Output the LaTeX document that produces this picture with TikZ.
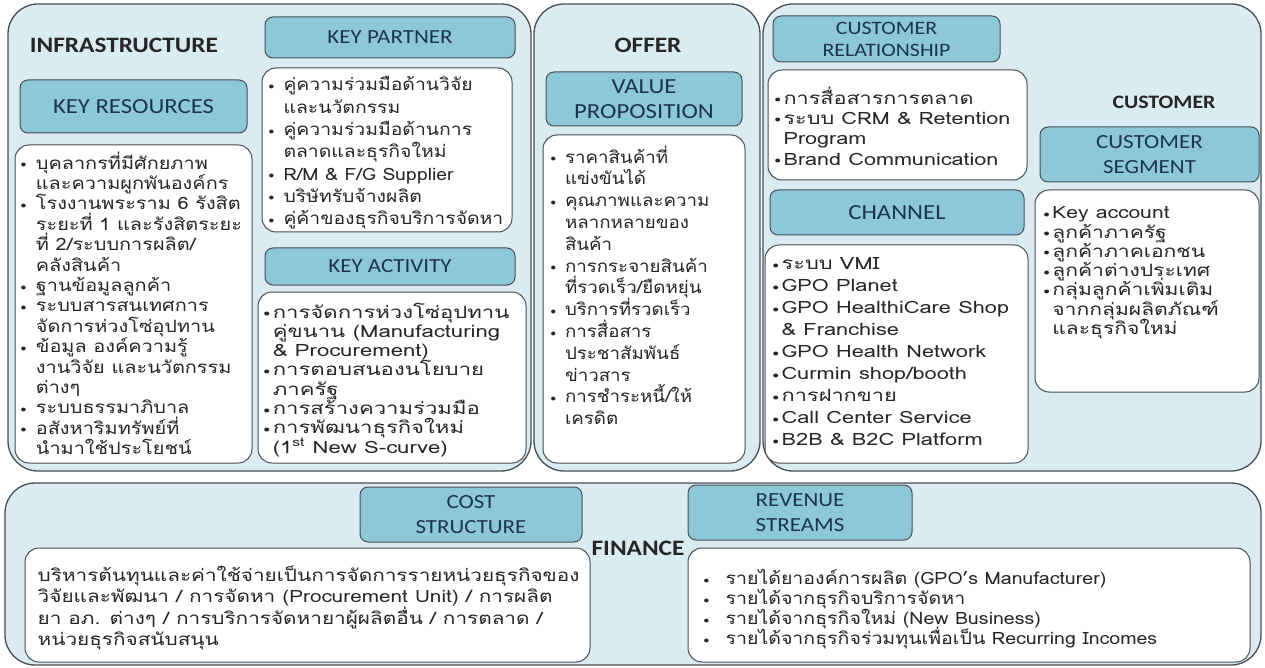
\documentclass[tikz,border=0pt]{standalone}
\usepackage{fontspec}
\usepackage{graphicx}
\setmainfont{Carlito}
\newfontfamily\thaifont[Script=Thai]{Loma}
\newfontfamily\capfont[FakeStretch=1.15]{Carlito}
\usetikzlibrary{positioning}

\definecolor{panelbg}{RGB}{218,235,242}
\definecolor{headbg}{RGB}{140,200,216}
\definecolor{headtxt}{RGB}{28,52,78}
\definecolor{edge}{RGB}{72,78,84}

% bullets: wide and narrow, with matching hanging indents
\newcommand{\dotmark}{\raisebox{1.5pt}{\fontsize{10}{10}\selectfont$\bullet$}}
\newcommand{\bl}{\makebox[13pt][l]{\dotmark}}
\newcommand{\ind}{\hspace*{13pt}}
\newcommand{\bn}{\makebox[7pt][l]{\dotmark}}
\newcommand{\inn}{\hspace*{7pt}}
% a block of lines on a fixed baseline grid, widened by #1
\newcommand{\lines}[2]{\scalebox{#1}[1]{\vtop{\lineskiplimit=-\maxdimen\lineskip=0pt
  \let\\\cr\halign{##\hfil\cr#2\crcr}}}}

\begin{document}
\begin{tikzpicture}[x=1pt,y=-1pt]
  \tikzset{
    panel/.style={draw=edge, line width=1.3pt, fill=panelbg, rounded corners=30pt, inner sep=0pt},
    head/.style={draw=edge, line width=1pt, fill=headbg, rounded corners=8pt, text=headtxt,
      font=\capfont\fontsize{20}{25}\selectfont, align=center, inner sep=0pt},
    body/.style={draw=edge, line width=1pt, fill=white, rounded corners=14pt, inner sep=0pt},
    title/.style={font=\capfont\bfseries\fontsize{22}{26}\selectfont, text=black!85},
    items/.style={anchor=north west, inner sep=0pt,
      font=\thaifont\fontsize{17}{#1}\selectfont, text=black!85},
  }
  \useasboundingbox (0,0) rectangle (1265,668);

  % the four blocks
  \node[panel, minimum width=523pt, minimum height=467pt] (infra) at (269.5,237.5) {};
  \node[panel, minimum width=226pt, minimum height=467pt] (offer) at (647,237.5) {};
  \node[panel, minimum width=498pt, minimum height=467pt] (cust) at (1012,237.5) {};
  \node[panel, minimum width=1256pt, minimum height=182pt] (fin) at (633,574) {};

  \node[title] (infrat) at (124,45) {INFRASTRUCTURE};
  \node[title] (offert) at (648,45) {OFFER};
  \node[title, font=\capfont\bfseries\fontsize{19}{22}\selectfont] (custt) at (1164,102) {CUSTOMER};

  % headers
  \node[head, minimum width=227pt, minimum height=53pt, font=\capfont\fontsize{21.5}{25}\selectfont] (krh) at (133.5,106.5) {KEY RESOURCES};
  \node[head, minimum width=250pt, minimum height=41pt] (kph) at (390,37.5) {KEY PARTNER};
  \node[head, minimum width=250pt, minimum height=37pt] (kah) at (390,266.5) {KEY ACTIVITY};
  \node[head, minimum width=196pt, minimum height=54pt, font=\capfont\fontsize{21.5}{25}\selectfont] (vph) at (644,99) {VALUE\\PROPOSITION};
  \node[head, minimum width=227pt, minimum height=46pt, font=\capfont\fontsize{19}{22}\selectfont] (crh) at (886.5,39) {CUSTOMER\\RELATIONSHIP};
  \node[head, minimum width=254pt, minimum height=45pt, font=\capfont\fontsize{21.5}{25}\selectfont] (chh) at (897,212.5) {CHANNEL};
  \node[head, minimum width=219pt, minimum height=55pt] (csh) at (1149.5,154.5) {CUSTOMER\\SEGMENT};
  \node[head, minimum width=222pt, minimum height=55pt] (costh) at (471,514.5) {COST\\STRUCTURE};
  \node[head, minimum width=224pt, minimum height=55pt] (rsh) at (800,512.5) {REVENUE\\STREAMS};

  % white content boxes
  \node[body, minimum width=237pt, minimum height=318pt] (krb) at (133.5,304) {};
  \node[body, minimum width=250pt, minimum height=164pt] (kpb) at (387,150) {};
  \node[body, minimum width=268pt, minimum height=171pt] (kab) at (392,377.5) {};
  \node[body, minimum width=202pt, minimum height=328pt] (vpb) at (644,299) {};
  \node[body, minimum width=259pt, minimum height=110pt] (crb) at (897.5,125) {};
  \node[body, minimum width=263pt, minimum height=218pt] (chb) at (896.5,354) {};
  \node[body, minimum width=224pt, minimum height=202pt] (csb) at (1147,291) {};
  \node[body, minimum width=565pt, minimum height=114pt] (costb) at (307.5,605) {};
  \node[body, minimum width=562pt, minimum height=114pt] (rsb) at (969,605) {};

  \node[title] (fint) at (638,548) {FINANCE};

  % contents
  \node[items=20.4] (krt) at ([xshift=6pt,yshift=-7pt]krb.north west) {\lines{1.17}{%
    \bl บุคลากรที่มีศักยภาพ\\ \ind และความผูกพันองค์กร\\
    \bl โรงงานพระราม 6 รังสิต\\ \ind ระยะที่ 1 และรังสิตระยะ\\ \ind ที่ 2/ระบบการผลิต/\\ \ind คลังสินค้า\\
    \bl ฐานข้อมูลลูกค้า\\
    \bl ระบบสารสนเทศการ\\ \ind จัดการห่วงโซ่อุปทาน\\
    \bl ข้อมูล องค์ความรู้\\ \ind งานวิจัย และนวัตกรรม\\ \ind ต่างๆ\\
    \bl ระบบธรรมาภิบาล\\
    \bl อสังหาริมทรัพย์ที่\\ \ind นำมาใช้ประโยชน์}};
  \node[items=22.3] (kpt) at ([xshift=7pt,yshift=-9pt]kpb.north west) {\lines{1.14}{%
    \bl คู่ความร่วมมือด้านวิจัย\\ \ind และนวัตกรรม\\
    \bl คู่ความร่วมมือด้านการ\\ \ind ตลาดและธุรกิจใหม่\\
    \bl R/M \& F/G Supplier\\
    \bl บริษัทรับจ้างผลิต\\
    \bl คู่ค้าของธุรกิจบริการจัดหา}};
  \node[items=19.3] (kat) at ([xshift=6pt,yshift=-11pt]kab.north west) {\lines{1.3}{%
    \bn การจัดการห่วงโซ่อุปทาน\\ \inn คู่ขนาน (Manufacturing\\ \inn \& Procurement)\\
    \bn การตอบสนองนโยบาย\\ \inn ภาครัฐ\\
    \bn การสร้างความร่วมมือ\\
    \bn การพัฒนาธุรกิจใหม่\\ \inn (1\textsuperscript{st} New S-curve)}};
  \node[items=21.8] (vpt) at ([xshift=8pt,yshift=-11pt]vpb.north west) {\lines{1.1}{%
    \bl ราคาสินค้าที่\\ \ind แข่งขันได้\\
    \bl คุณภาพและความ\\ \ind หลากหลายของ\\ \ind สินค้า\\
    \bl การกระจายสินค้า\\ \ind ที่รวดเร็ว/ยืดหยุ่น\\
    \bl บริการที่รวดเร็ว\\
    \bl การสื่อสาร\\ \ind ประชาสัมพันธ์\\ \ind ข่าวสาร\\
    \bl การชำระหนี้/ให้\\ \ind เครดิต}};
  \node[items=20.3] (crt) at ([xshift=7pt,yshift=-17pt]crb.north west) {\lines{1.27}{%
    \bn การสื่อสารการตลาด\\
    \bn ระบบ CRM \& Retention\\ \inn Program\\
    \bn Brand Communication}};
  \node[items=22] (cht) at ([xshift=8pt,yshift=-13pt]chb.north west) {\lines{1.28}{%
    \bn ระบบ VMI\\
    \bn GPO Planet\\
    \bn GPO HealthiCare Shop\\ \inn \& Franchise\\
    \bn GPO Health Network\\
    \bn Curmin shop/booth\\
    \bn การฝากขาย\\
    \bn Call Center Service\\
    \bn B2B \& B2C Platform}};
  \node[items=19.3] (cst) at ([xshift=9pt,yshift=-17pt]csb.north west) {\lines{1.24}{%
    \bn Key account\\
    \bn ลูกค้าภาครัฐ\\
    \bn ลูกค้าภาคเอกชน\\
    \bn ลูกค้าต่างประเทศ\\
    \bn กลุ่มลูกค้าเพิ่มเติม\\ \inn จากกลุ่มผลิตภัณฑ์\\ \inn และธุรกิจใหม่}};
  \node[items=21.5] (costt) at ([xshift=13pt,yshift=-18pt]costb.north west) {\lines{1.22}{%
    บริหารต้นทุนและค่าใช้จ่ายเป็นการจัดการรายหน่วยธุรกิจของ\\
    วิจัยและพัฒนา / การจัดหา (Procurement Unit) / การผลิต\\
    ยา อภ. ต่างๆ / การบริการจัดหายาผู้ผลิตอื่น / การตลาด /\\
    หน่วยธุรกิจสนับสนุน}};
  \node[items=20] (rst) at ([xshift=16pt,yshift=-22pt]rsb.north west) {\lines{1.15}{%
    \makebox[19pt][l]{\dotmark}รายได้ยาองค์การผลิต (GPO’s Manufacturer)\\
    \makebox[19pt][l]{\dotmark}รายได้จากธุรกิจบริการจัดหา\\
    \makebox[19pt][l]{\dotmark}รายได้จากธุรกิจใหม่ (New Business)\\
    \makebox[19pt][l]{\dotmark}รายได้จากธุรกิจร่วมทุนเพื่อเป็น Recurring Incomes}};
\end{tikzpicture}
\end{document}
